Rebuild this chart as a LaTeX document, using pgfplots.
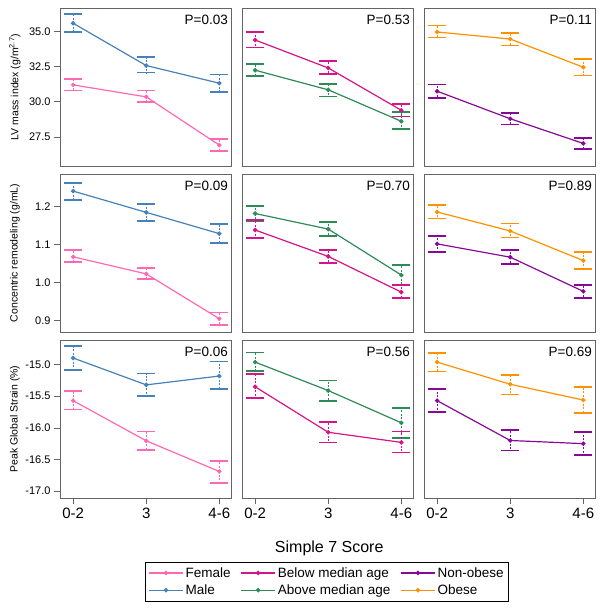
\documentclass[border=0pt]{standalone}
\usepackage{fontspec}
\setmainfont{Liberation Sans}
\usepackage{pgfplots}
\pgfplotsset{compat=1.18}
\usepgfplotslibrary{groupplots}
\usetikzlibrary{calc}
\definecolor{cfemale}{RGB}{255,105,180}
\definecolor{cmale}{RGB}{70,130,185}
\definecolor{cbelow}{RGB}{212,20,135}
\definecolor{cabove}{RGB}{46,139,87}
\definecolor{cnonob}{RGB}{135,10,150}
\definecolor{cobese}{RGB}{255,145,0}
\definecolor{frame}{RGB}{100,100,100}
\pgfplotsset{
  ser/.style={color=#1, line width=1.2pt, mark=*, mark size=1.6pt, mark options={solid}, forget plot,
    error bars/.cd, y dir=both, y explicit, error mark=|,
    error bar style={line width=0.5pt, dash pattern=on 2pt off 1.5pt, #1},
    error mark options={solid, line width=1.7pt, mark size=9pt, #1}},
  leg/.style={color=#1, line width=1.2pt, mark=*, mark size=1.6pt},
}
\newcommand{\ptext}[1]{\node[anchor=north east, inner sep=0pt, font=\fontsize{13.5}{15}\selectfont] at (rel axis cs:1,1) [xshift=-3pt, yshift=-6.5pt] {#1};}
\begin{document}
\begin{tikzpicture}
\begin{groupplot}[
  group style={group size=3 by 3, horizontal sep=11pt, vertical sep=8pt},
  width=171pt, height=158pt, scale only axis, clip=false,
  xmin=-0.18, xmax=2.16, xtick=\empty, ytick=\empty,
  axis line style={frame, line width=0.8pt},
  tick style={frame, line width=0.7pt},
  tick align=outside, major tick length=6pt,
  xtick pos=bottom, ytick pos=left,
  /pgf/number format/assume math mode=true,
  yticklabel style={font=\fontsize{11}{13}\selectfont, /pgf/number format/.cd, fixed, fixed zerofill, precision=1},
  xticklabel style={font=\fontsize{15}{17}\selectfont},
]
% ---------- Row 1: LV mass index
\nextgroupplot[ymin=25.45, ymax=36.65, ytick={27.5,30,32.5,35}]
\addplot[ser=cmale] table[x=x,y=y,y error plus=ep,y error minus=em]{
x y ep em
0 35.57 0.63 0.60
1 32.57 0.59 0.50
2 31.32 0.61 0.64
};
\addplot[ser=cfemale] table[x=x,y=y,y error plus=ep,y error minus=em]{
x y ep em
0 31.20 0.43 0.40
1 30.35 0.45 0.37
2 26.93 0.43 0.42
};
\ptext{P=0.03}
\nextgroupplot[ymin=25.45, ymax=36.65]
\addplot[ser=cbelow] table[x=x,y=y,y error plus=ep,y error minus=em]{
x y ep em
0 34.38 0.59 0.54
1 32.40 0.50 0.42
2 29.40 0.43 0.44
};
\addplot[ser=cabove] table[x=x,y=y,y error plus=ep,y error minus=em]{
x y ep em
0 32.24 0.45 0.40
1 30.85 0.42 0.48
2 28.62 0.64 0.56
};
\ptext{P=0.53}
\nextgroupplot[ymin=25.45, ymax=36.65]
\addplot[ser=cobese] table[x=x,y=y,y error plus=ep,y error minus=em]{
x y ep em
0 34.95 0.45 0.40
1 34.45 0.45 0.45
2 32.45 0.59 0.59
};
\addplot[ser=cnonob] table[x=x,y=y,y error plus=ep,y error minus=em]{
x y ep em
0 30.75 0.47 0.49
1 28.80 0.40 0.40
2 27.05 0.40 0.40
};
\ptext{P=0.11}
% ---------- Row 2: Concentric remodeling
\nextgroupplot[ymin=0.869, ymax=1.285, ytick={0.9,1.0,1.1,1.2}]
\addplot[ser=cmale] table[x=x,y=y,y error plus=ep,y error minus=em]{
x y ep em
0 1.240 0.022 0.023
1 1.184 0.022 0.022
2 1.128 0.026 0.025
};
\addplot[ser=cfemale] table[x=x,y=y,y error plus=ep,y error minus=em]{
x y ep em
0 1.067 0.017 0.014
1 1.022 0.015 0.014
2 0.904 0.016 0.016
};
\ptext{P=0.09}
\nextgroupplot[ymin=0.869, ymax=1.285]
\addplot[ser=cabove] table[x=x,y=y,y error plus=ep,y error minus=em]{
x y ep em
0 1.181 0.019 0.019
1 1.140 0.019 0.019
2 1.019 0.026 0.026
};
\addplot[ser=cbelow] table[x=x,y=y,y error plus=ep,y error minus=em]{
x y ep em
0 1.1375 0.0255 0.0215
1 1.068 0.017 0.017
2 0.974 0.018 0.015
};
\ptext{P=0.70}
\nextgroupplot[ymin=0.869, ymax=1.285]
\addplot[ser=cobese] table[x=x,y=y,y error plus=ep,y error minus=em]{
x y ep em
0 1.185 0.019 0.017
1 1.135 0.020 0.017
2 1.057 0.023 0.023
};
\addplot[ser=cnonob] table[x=x,y=y,y error plus=ep,y error minus=em]{
x y ep em
0 1.101 0.021 0.021
1 1.066 0.019 0.018
2 0.976 0.017 0.017
};
\ptext{P=0.89}
% ---------- Row 3: Peak global strain
\nextgroupplot[ymin=-17.11, ymax=-14.61, ytick={-17,-16.5,-16,-15.5,-15}, xtick={0,1,2}, xticklabels={0-2,3,4-6}]
\addplot[ser=cmale] table[x=x,y=y,y error plus=ep,y error minus=em]{
x y ep em
0 -14.895 0.185 0.19
1 -15.32 0.18 0.18
2 -15.18 0.23 0.20
};
\addplot[ser=cfemale] table[x=x,y=y,y error plus=ep,y error minus=em]{
x y ep em
0 -15.57 0.15 0.14
1 -16.205 0.145 0.145
2 -16.69 0.17 0.18
};
\ptext{P=0.06}
\nextgroupplot[ymin=-17.11, ymax=-14.61, xtick={0,1,2}, xticklabels={0-2,3,4-6},
  legend columns=3,
  legend style={at={(0.497,-0.405)}, anchor=north, draw=black, line width=0.6pt,
    font=\fontsize{13.5}{15}\selectfont, inner xsep=3pt, inner ysep=3pt, row sep=2pt,
    /tikz/every odd column/.append style={column sep=0pt},
    /tikz/every even column/.append style={column sep=8pt}},
  legend cell align=left,
  legend image code/.code={\draw[mark repeat=2, mark phase=2, #1] plot coordinates {(0pt,0pt) (17pt,0pt) (34pt,0pt)};}]
\addplot[ser=cabove] table[x=x,y=y,y error plus=ep,y error minus=em]{
x y ep em
0 -14.96 0.15 0.14
1 -15.41 0.16 0.17
2 -15.92 0.23 0.24
};
\addplot[ser=cbelow] table[x=x,y=y,y error plus=ep,y error minus=em]{
x y ep em
0 -15.35 0.20 0.18
1 -16.07 0.16 0.16
2 -16.23 0.17 0.16
};
\ptext{P=0.56}
\addlegendimage{leg=cfemale}\addlegendentry{Female}
\addlegendimage{leg=cbelow}\addlegendentry{Below median age}
\addlegendimage{leg=cnonob}\addlegendentry{Non-obese}
\addlegendimage{leg=cmale}\addlegendentry{Male}
\addlegendimage{leg=cabove}\addlegendentry{Above median age}
\addlegendimage{leg=cobese}\addlegendentry{Obese}
\node[font=\fontsize{16}{18}\selectfont] at (rel axis cs:0.51,0) [yshift=-50pt] {Simple 7 Score};
\nextgroupplot[ymin=-17.11, ymax=-14.61, xtick={0,1,2}, xticklabels={0-2,3,4-6}]
\addplot[ser=cobese] table[x=x,y=y,y error plus=ep,y error minus=em]{
x y ep em
0 -14.96 0.145 0.147
1 -15.31 0.15 0.16
2 -15.56 0.21 0.21
};
\addplot[ser=cnonob] table[x=x,y=y,y error plus=ep,y error minus=em]{
x y ep em
0 -15.57 0.19 0.18
1 -16.20 0.17 0.16
2 -16.25 0.18 0.18
};
\ptext{P=0.69}
\end{groupplot}
\node[rotate=90, font=\fontsize{10.5}{12}\selectfont] at ($(group c1r1.west)+(-45pt,0)$) {LV mass index (g/m\textsuperscript{2.7})};
\node[rotate=90, font=\fontsize{10.5}{12}\selectfont] at ($(group c1r2.west)+(-45pt,0)$) {Concentric remodeling (g/mL)};
\node[rotate=90, font=\fontsize{10.5}{12}\selectfont] at ($(group c1r3.west)+(-45pt,0)$) {Peak Global Strain (\%)};
\pgfresetboundingbox
\path[use as bounding box] ($(group c1r1.north west)+(-60pt,8pt)$) rectangle ($(group c3r3.south east)+(9pt,-112pt)$);
\end{tikzpicture}
\end{document}
